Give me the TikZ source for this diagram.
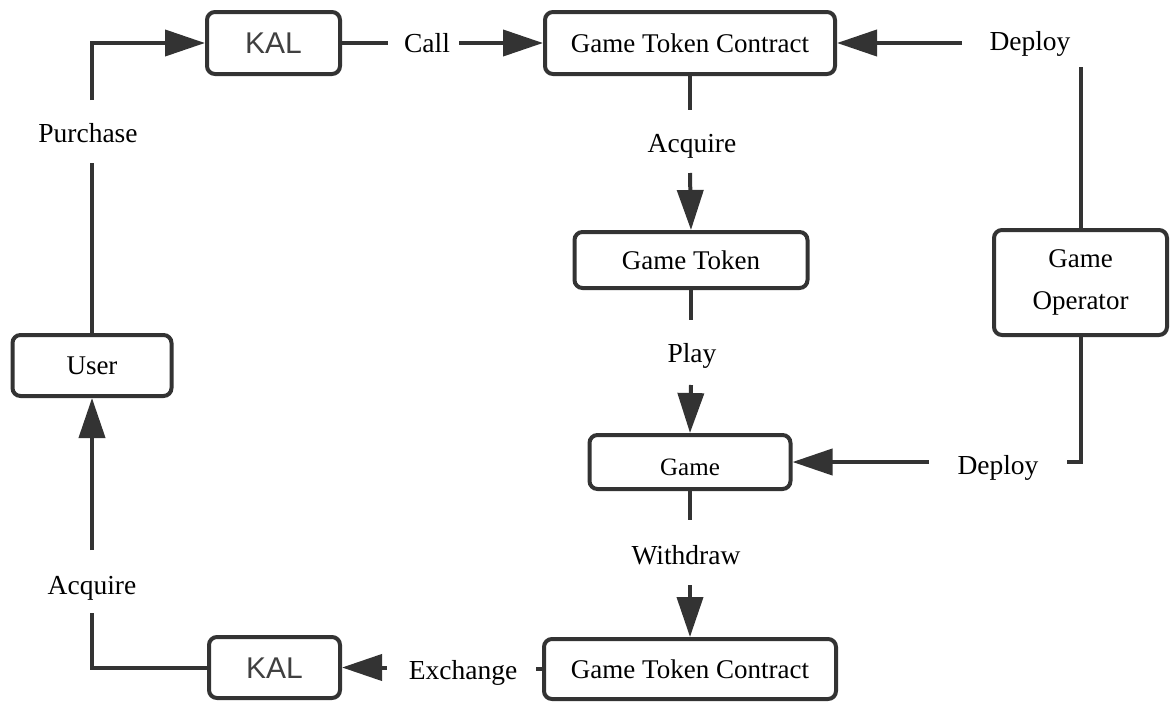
\documentclass[tikz,border=0pt]{standalone}
\usepackage{fontspec}
\setmainfont{Liberation Serif}
\newfontfamily\kalfont{Liberation Sans}
\usetikzlibrary{arrows.meta}
\definecolor{ln}{HTML}{333333}
\definecolor{kalgray}{HTML}{404040}
\begin{document}
\begin{tikzpicture}[x=1pt,y=-1pt,
  box/.style={draw=ln, line width=4pt, rounded corners=8pt, fill=white, inner sep=0pt, align=center,
    font=\fontsize{27}{34}\selectfont},
  onel/.style={text height=18pt, text depth=0pt},
  kalbox/.style={box, text height=21.5pt, text depth=0pt, font=\kalfont\fontsize{30}{34}\selectfont, text=kalgray},
  lbl/.style={inner sep=0pt, font=\fontsize{27.5}{30}\selectfont, text height=18.2pt, text depth=0pt},
  conn/.style={draw=ln, line width=4pt},
  arr/.style={conn, -{Triangle[length=40pt,width=26pt]}},
]
\useasboundingbox (0,0) rectangle (1176,704);

% boxes
\node[kalbox, minimum width=133pt, minimum height=62pt] (kal1) at (273.5,43) {KAL};
\node[box, onel, minimum width=290pt, minimum height=62pt] (gtc1) at (690,43) {Game Token Contract};
\node[box, onel, minimum width=233pt, minimum height=56pt] (gtok) at (691,260) {Game Token};
\node[box, minimum width=201pt, minimum height=54pt, text height=16.5pt, text depth=0pt, font=\fontsize{25}{30}\selectfont] (game) at (690,462) {\raisebox{-5pt}{Game}};
\node[box, onel, minimum width=292pt, minimum height=60pt] (gtc2) at (690,669) {Game Token Contract};
\node[kalbox, minimum width=131pt, minimum height=61pt] (kal2) at (274.5,667.5) {KAL};
\node[box, onel, minimum width=159pt, minimum height=61pt] (user) at (92,365.5) {User};
\node[box, minimum width=173pt, minimum height=105pt, font=\fontsize{27}{42}\selectfont] (oper) at (1080.5,282.5) {Game\\Operator};

% labels
\node[lbl] (call) at (427,43) {Call};
\node[lbl] (purchase) at (88,133) {Purchase};
\node[lbl] (acq1) at (692,143) {Acquire};
\node[lbl] (dep1) at (1030,41) {Deploy};
\node[lbl] (play) at (692,353) {Play};
\node[lbl] (dep2) at (998,465) {Deploy};
\node[lbl] (withdraw) at (686,555) {Withdraw};
\node[lbl] (acq2) at (92,585) {Acquire};
\node[lbl] (exch) at (463,670) {Exchange};

% gap ends
\coordinate (p1) at (92,163);
\coordinate (p2) at (92,100);
\coordinate (c1) at (388,43);
\coordinate (c2) at (459,43);
\coordinate (d1) at (962,43);
\coordinate (d2) at (1080.5,67);
\coordinate (a1) at (690,110);
\coordinate (a2) at (690,173);
\coordinate (l1) at (691,320);
\coordinate (l2) at (691,385);
\coordinate (dp1) at (1067,462);
\coordinate (dp2) at (929,462);
\coordinate (w1) at (690,520);
\coordinate (w2) at (690,585);
\coordinate (e1) at (536,669);
\coordinate (e2) at (387,667.5);
\coordinate (q1) at (92,613);
\coordinate (q2) at (92,550);

% connectors
\draw[conn] (user.north) -- (p1);
\draw[arr] (p2) |- (kal1.west);
\draw[conn] (kal1.east) -- (c1);
\draw[arr] (c2) -- (gtc1.west);
\draw[arr] (d1) -- (gtc1.east);
\draw[conn] (d2) -- (oper.north);
\draw[conn] (gtc1.south) -- (a1);
\draw[arr] (a2) -- (gtok.north);
\draw[conn] (gtok.south) -- (l1);
\draw[arr] (l2) -- (game.north);
\draw[conn] (oper.south) |- (dp1);
\draw[arr] (dp2) -- (game.east);
\draw[conn] (game.south) -- (w1);
\draw[arr] (w2) -- (gtc2.north);
\draw[conn] (gtc2.west) -- (e1);
\draw[arr] (e2) -- (kal2.east);
\draw[conn] (kal2.west) -| (q1);
\draw[arr] (q2) -- (user.south);
\end{tikzpicture}
\end{document}
